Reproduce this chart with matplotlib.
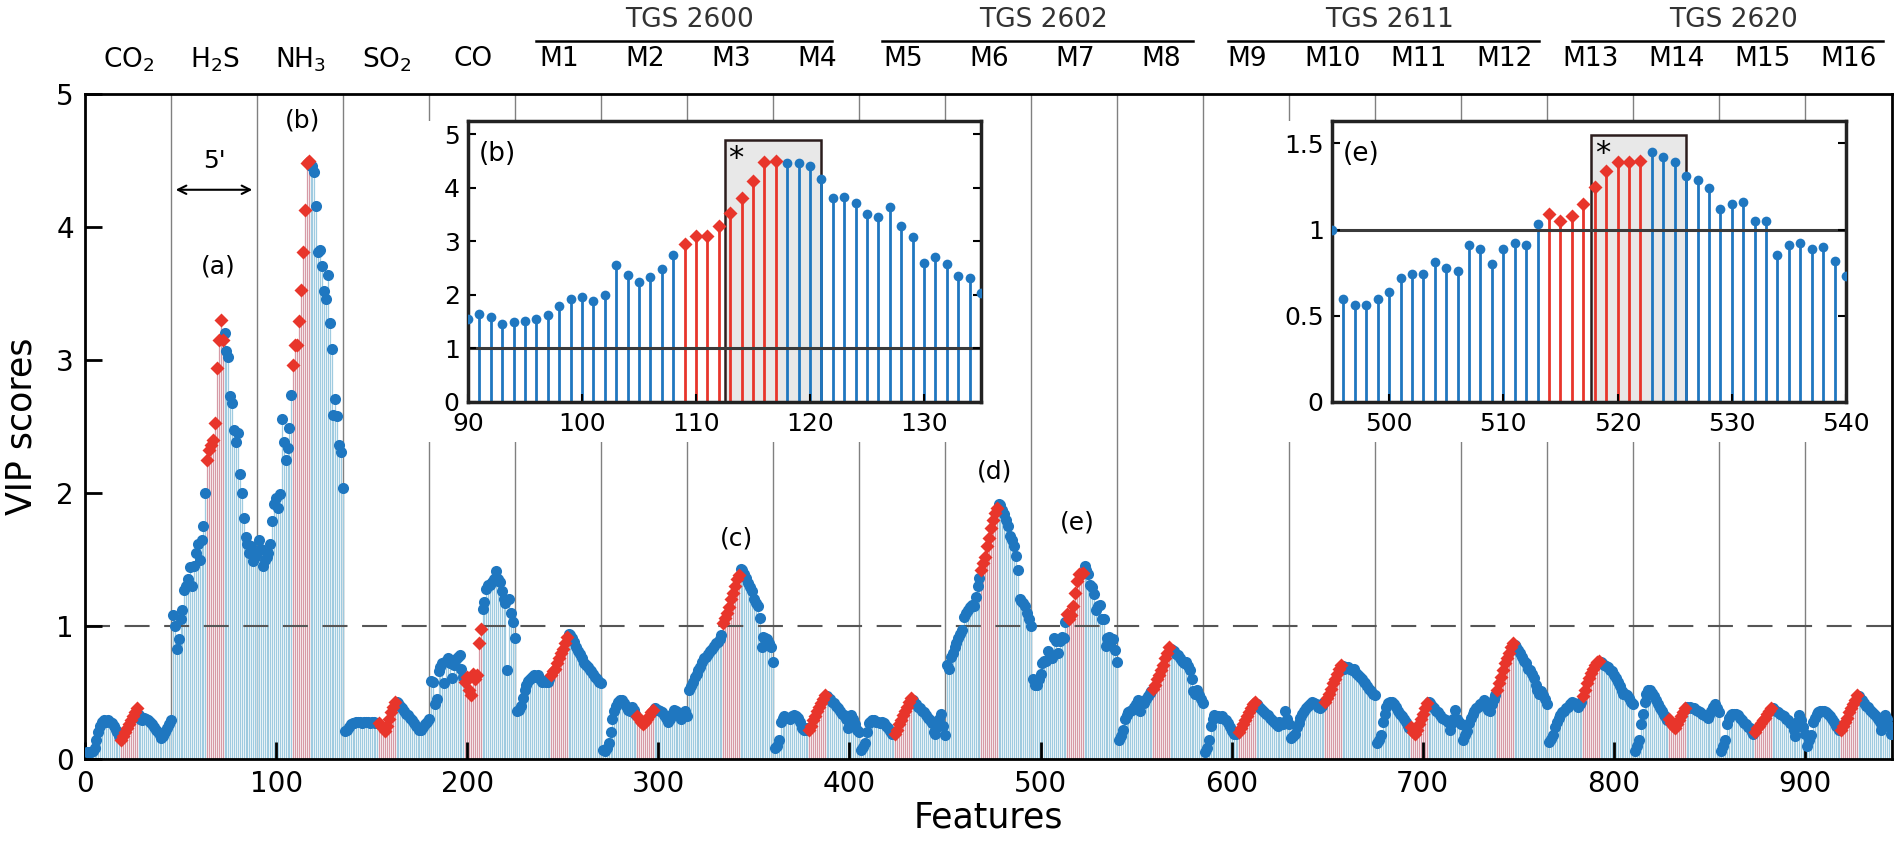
import matplotlib.pyplot as plt
from matplotlib.patches import Rectangle
from matplotlib.transforms import blended_transform_factory
import numpy as np

# block names (gases, then 16 sensor features M1..M16)
block_labels = ['CO$_2$', 'H$_2$S', 'NH$_3$', 'SO$_2$', 'CO'] + ['M%d' % i for i in range(1, 17)]
sensors = ['TGS 2600', 'TGS 2602', 'TGS 2611', 'TGS 2620']
sensor_spans = [(236, 391), (417, 580), (598, 761), (778, 941)]
block_size = 45
sel_first, sel_count = 18, 9   # selected (red) features inside every block

# VIP scores per block, 45 features each
vip_co2 = [0.05, 0.05, 0.05, 0.06, 0.08, 0.14, 0.2, 0.25, 0.28, 0.29, 0.28, 0.29, 0.28, 0.27, 0.25, 0.22, 0.2, 0.17,
           0.14, 0.17, 0.2, 0.23, 0.26, 0.29, 0.32, 0.35, 0.38,
           0.33, 0.3, 0.29, 0.31, 0.3, 0.29, 0.28, 0.26, 0.24, 0.22, 0.2, 0.18, 0.16, 0.17, 0.2, 0.23, 0.26, 0.29]
vip_h2s = [1.08, 1.0, 0.83, 0.9, 1.05, 1.12, 1.27, 1.3, 1.35, 1.44, 1.3, 1.45, 1.55, 1.62, 1.5, 1.65, 1.75, 2.0,
           2.25, 2.32, 2.36, 2.4, 2.53, 2.94, 3.15, 3.3, 3.15,
           3.2, 3.07, 3.02, 2.73, 2.68, 2.47, 2.38, 2.45, 2.14, 2.0, 1.81, 1.67, 1.62, 1.55, 1.6, 1.49, 1.52, 1.55]
vip_nh3 = [1.65, 1.58, 1.45, 1.5, 1.52, 1.55, 1.62, 1.79, 1.92, 1.96, 1.89, 1.99, 2.56, 2.38, 2.25, 2.34, 2.49, 2.74,
           2.96, 3.11, 3.11, 3.29, 3.53, 3.81, 4.13, 4.48, 4.5,
           4.46, 4.46, 4.41, 4.16, 3.81, 3.83, 3.71, 3.52, 3.46, 3.64, 3.28, 3.08, 2.59, 2.71, 2.58, 2.36, 2.31, 2.04]
vip_so2 = [0.21, 0.22, 0.24, 0.26, 0.27, 0.27, 0.28, 0.28, 0.28, 0.27, 0.28, 0.28, 0.28, 0.27, 0.28, 0.28, 0.27, 0.27,
           0.27, 0.25, 0.23, 0.21, 0.25, 0.3, 0.35, 0.39, 0.43,
           0.43, 0.42, 0.4, 0.38, 0.36, 0.34, 0.33, 0.31, 0.29, 0.27, 0.25, 0.23, 0.22, 0.22, 0.24, 0.26, 0.28, 0.3]
vip_co = [0.59, 0.58, 0.41, 0.45, 0.66, 0.69, 0.72, 0.57, 0.74, 0.76, 0.72, 0.61, 0.71, 0.75, 0.77, 0.78, 0.68, 0.62,
          0.58, 0.62, 0.52, 0.48, 0.64, 0.6, 0.63, 0.87, 0.98,
          1.13, 1.18, 1.28, 1.31, 1.31, 1.33, 1.35, 1.41, 1.35, 1.33, 1.26, 1.2, 1.17, 0.67, 1.2, 1.1, 1.03, 0.91]
vip_m1 = [0.36, 0.37, 0.4, 0.46, 0.52, 0.56, 0.59, 0.6, 0.62, 0.63, 0.62, 0.63, 0.6, 0.58, 0.59, 0.58, 0.58, 0.6,
          0.63, 0.66, 0.68, 0.72, 0.76, 0.8, 0.83, 0.87, 0.92,
          0.94, 0.93, 0.91, 0.88, 0.84, 0.81, 0.79, 0.76, 0.72, 0.71, 0.69, 0.67, 0.66, 0.64, 0.62, 0.6, 0.58, 0.57]
vip_m2 = [0.07, 0.06, 0.08, 0.12, 0.2, 0.3, 0.36, 0.4, 0.43, 0.44, 0.44, 0.42, 0.4, 0.37, 0.36, 0.39, 0.37, 0.34,
          0.32, 0.3, 0.28, 0.26, 0.28, 0.3, 0.32, 0.35, 0.37,
          0.38, 0.37, 0.37, 0.36, 0.35, 0.33, 0.31, 0.28, 0.3, 0.34, 0.37, 0.36, 0.35, 0.32, 0.3, 0.33, 0.36, 0.32]
vip_m3 = [0.52, 0.55, 0.58, 0.62, 0.64, 0.67, 0.69, 0.73, 0.76, 0.77, 0.79, 0.81, 0.83, 0.85, 0.87, 0.88, 0.9, 0.93,
          1.02, 1.06, 1.1, 1.14, 1.2, 1.25, 1.3, 1.35, 1.38,
          1.43, 1.42, 1.39, 1.36, 1.32, 1.29, 1.26, 1.2, 1.17, 1.15, 1.06, 0.84, 0.92, 0.91, 0.9, 0.87, 0.84, 0.73]
vip_m4 = [0.08, 0.1, 0.14, 0.28, 0.31, 0.32, 0.31, 0.31, 0.3, 0.32, 0.33, 0.32, 0.31, 0.28, 0.23, 0.22, 0.22, 0.23,
          0.22, 0.25, 0.29, 0.32, 0.36, 0.39, 0.42, 0.45, 0.48,
          0.47, 0.46, 0.45, 0.43, 0.42, 0.4, 0.38, 0.36, 0.34, 0.33, 0.3, 0.23, 0.28, 0.33, 0.3, 0.26, 0.22, 0.2]
vip_m5 = [0.07, 0.09, 0.12, 0.2, 0.27, 0.28, 0.29, 0.29, 0.28, 0.28, 0.27, 0.28, 0.27, 0.25, 0.23, 0.21, 0.19, 0.2,
          0.19, 0.22, 0.26, 0.29, 0.33, 0.36, 0.39, 0.43, 0.46,
          0.44, 0.42, 0.41, 0.39, 0.38, 0.36, 0.35, 0.33, 0.31, 0.29, 0.27, 0.2, 0.19, 0.24, 0.3, 0.34, 0.25, 0.18]
vip_m6 = [0.71, 0.68, 0.77, 0.8, 0.84, 0.87, 0.91, 0.94, 0.97, 1.07, 1.1, 1.12, 1.14, 1.16, 1.15, 1.22, 1.3, 1.36,
          1.42, 1.47, 1.52, 1.6, 1.66, 1.74, 1.8, 1.85, 1.89,
          1.92, 1.91, 1.87, 1.84, 1.8, 1.75, 1.68, 1.65, 1.6, 1.53, 1.42, 1.2, 1.19, 1.17, 1.15, 1.1, 1.05, 1.0]
vip_m7 = [0.6, 0.56, 0.56, 0.6, 0.64, 0.72, 0.74, 0.74, 0.81, 0.78, 0.76, 0.91, 0.89, 0.8, 0.89, 0.92, 0.91, 1.03,
          1.09, 1.05, 1.08, 1.15, 1.25, 1.34, 1.39, 1.39, 1.4,
          1.45, 1.42, 1.39, 1.31, 1.29, 1.24, 1.12, 1.15, 1.16, 1.05, 1.05, 0.85, 0.91, 0.92, 0.89, 0.9, 0.82, 0.73]
vip_m8 = [0.14, 0.17, 0.22, 0.3, 0.33, 0.35, 0.36, 0.37, 0.39, 0.41, 0.44, 0.36, 0.43, 0.42, 0.45, 0.47, 0.5, 0.51,
          0.53, 0.56, 0.6, 0.63, 0.67, 0.71, 0.76, 0.8, 0.84,
          0.83, 0.82, 0.81, 0.79, 0.78, 0.76, 0.74, 0.72, 0.73, 0.7, 0.67, 0.6, 0.51, 0.49, 0.52, 0.48, 0.45, 0.42]
vip_m9 = [0.05, 0.08, 0.14, 0.25, 0.3, 0.33, 0.32, 0.32, 0.31, 0.32, 0.3, 0.29, 0.27, 0.24, 0.21, 0.19, 0.19, 0.2,
          0.2, 0.23, 0.26, 0.29, 0.32, 0.35, 0.38, 0.41, 0.43,
          0.41, 0.4, 0.38, 0.37, 0.35, 0.34, 0.33, 0.31, 0.29, 0.28, 0.26, 0.25, 0.28, 0.27, 0.26, 0.36, 0.3, 0.26]
vip_m10 = [0.16, 0.17, 0.19, 0.24, 0.27, 0.31, 0.34, 0.36, 0.38, 0.4, 0.41, 0.43, 0.42, 0.41, 0.39, 0.38, 0.4, 0.42,
           0.43, 0.46, 0.49, 0.53, 0.57, 0.6, 0.64, 0.68, 0.71,
           0.7, 0.68, 0.69, 0.69, 0.68, 0.67, 0.68, 0.65, 0.63, 0.62, 0.6, 0.58, 0.57, 0.55, 0.53, 0.51, 0.49, 0.48]
vip_m11 = [0.12, 0.14, 0.18, 0.28, 0.34, 0.39, 0.42, 0.43, 0.43, 0.41, 0.39, 0.36, 0.34, 0.32, 0.3, 0.28, 0.25, 0.23,
           0.24, 0.2, 0.19, 0.22, 0.26, 0.3, 0.34, 0.38, 0.42,
           0.43, 0.42, 0.4, 0.38, 0.36, 0.35, 0.33, 0.31, 0.3, 0.29, 0.28, 0.22, 0.26, 0.3, 0.37, 0.3, 0.28, 0.26]
vip_m12 = [0.14, 0.18, 0.21, 0.27, 0.31, 0.34, 0.36, 0.38, 0.39, 0.41, 0.42, 0.44, 0.4, 0.37, 0.36, 0.41, 0.45, 0.48,
           0.52, 0.57, 0.62, 0.67, 0.72, 0.76, 0.8, 0.84, 0.87,
           0.86, 0.84, 0.82, 0.8, 0.77, 0.74, 0.72, 0.68, 0.67, 0.64, 0.61, 0.56, 0.52, 0.49, 0.51, 0.48, 0.45, 0.41]
vip_m13 = [0.13, 0.15, 0.18, 0.24, 0.28, 0.31, 0.33, 0.35, 0.36, 0.38, 0.39, 0.41, 0.43, 0.42, 0.41, 0.39, 0.41, 0.43,
           0.47, 0.52, 0.57, 0.61, 0.65, 0.68, 0.71, 0.73, 0.74,
           0.73, 0.72, 0.71, 0.7, 0.69, 0.67, 0.66, 0.63, 0.61, 0.58, 0.55, 0.51, 0.49, 0.49, 0.48, 0.46, 0.43, 0.41]
vip_m14 = [0.06, 0.1, 0.14, 0.26, 0.34, 0.43, 0.49, 0.52, 0.52, 0.5, 0.47, 0.44, 0.41, 0.38, 0.36, 0.33, 0.31, 0.29,
           0.3, 0.27, 0.25, 0.23, 0.26, 0.29, 0.32, 0.35, 0.38,
           0.39, 0.38, 0.39, 0.38, 0.38, 0.37, 0.36, 0.35, 0.34, 0.33, 0.32, 0.31, 0.33, 0.36, 0.39, 0.41, 0.38, 0.35]
vip_m15 = [0.06, 0.1, 0.14, 0.26, 0.31, 0.33, 0.34, 0.34, 0.34, 0.33, 0.31, 0.29, 0.27, 0.26, 0.24, 0.23, 0.2, 0.19,
           0.2, 0.23, 0.25, 0.27, 0.29, 0.31, 0.34, 0.36, 0.38,
           0.38, 0.37, 0.36, 0.35, 0.34, 0.33, 0.32, 0.3, 0.29, 0.27, 0.26, 0.22, 0.17, 0.28, 0.33, 0.29, 0.24, 0.19]
vip_m16 = [0.1, 0.14, 0.18, 0.28, 0.31, 0.34, 0.35, 0.36, 0.36, 0.36, 0.35, 0.34, 0.32, 0.3, 0.28, 0.25, 0.23, 0.22,
           0.22, 0.25, 0.28, 0.31, 0.35, 0.38, 0.41, 0.44, 0.48,
           0.47, 0.45, 0.44, 0.42, 0.4, 0.39, 0.37, 0.35, 0.34, 0.32, 0.3, 0.28, 0.22, 0.3, 0.33, 0.3, 0.25, 0.19]

blocks = [vip_co2, vip_h2s, vip_nh3, vip_so2, vip_co, vip_m1, vip_m2, vip_m3, vip_m4, vip_m5, vip_m6, vip_m7,
          vip_m8, vip_m9, vip_m10, vip_m11, vip_m12, vip_m13, vip_m14, vip_m15, vip_m16]

vip = np.concatenate([np.array(b, dtype=float) for b in blocks])
feat = np.arange(1, len(vip) + 1)
off = (feat - 1) % block_size
sel = (off >= sel_first) & (off < sel_first + sel_count)

BLUE = '#1f77c0'
RED = '#e8352b'

W, H = 1898, 850
fig = plt.figure(figsize=(W / 100, H / 100), dpi=100)
plt.rcParams['font.family'] = ['DejaVu Sans']

# main axes
ax = fig.add_axes([85 / W, 1 - 759 / H, 1807 / W, 665 / H])
ax.set_zorder(0)
ax.vlines(feat[~sel], 0, vip[~sel], color='#9fcbe0', lw=0.9, zorder=1)
ax.vlines(feat[sel], 0, vip[sel], color='#d69aa6', lw=0.9, zorder=1)
for k in range(1, len(blocks)):
    ax.axvline(block_size * k, color='#808080', lw=1.0, zorder=0.5)
ax.axhline(1, color='#555555', lw=1.5, ls=(0, (12, 7)), zorder=1.5)
ax.plot(feat[~sel], vip[~sel], 'o', color=BLUE, ms=8, mec='none', zorder=3)
ax.plot(feat[sel], vip[sel], 'D', color=RED, ms=7.5, mec='none', zorder=4)

ax.set_xlim(0, 945.5)
ax.set_ylim(0, 5)
ax.set_xticks(range(0, 901, 100))
ax.set_yticks(range(0, 6))
ax.tick_params(direction='in', length=12, width=2, labelsize=20, pad=8)
for s in ax.spines.values():
    s.set_linewidth(2)
ax.set_xlabel('Features', fontsize=25)
ax.set_ylabel('VIP scores', fontsize=25)
ax.xaxis.set_label_coords(0.5, -0.062)
ax.yaxis.set_label_coords(-0.026, 0.5)

# labels above the axes
trans = blended_transform_factory(ax.transData, ax.transAxes)
for i, lab in enumerate(block_labels):
    ax.text(block_size * i + 23, 1.052, lab, transform=trans, ha='center', va='center', fontsize=19)
for name, (a, b) in zip(sensors, sensor_spans):
    ax.plot([a, b], [1.08, 1.08], transform=trans, color='black', lw=1.8, clip_on=False)
    ax.text((a + b) / 2 + 3, 1.112, name, transform=trans, ha='center', va='center', fontsize=19, color='#333333')

# peak labels
for lab, xx, yy in [('(a)', 69.5, 3.7), ('(b)', 114, 4.8), ('(c)', 341, 1.66), ('(d)', 476, 2.16), ('(e)', 519, 1.78)]:
    ax.text(xx, yy, lab, ha='center', va='center', fontsize=18)
ax.annotate('', xy=(46, 4.28), xytext=(89, 4.28),
            arrowprops=dict(arrowstyle='<->', lw=1.5, color='black', mutation_scale=15))
ax.text(67.5, 4.5, "5'", ha='center', va='center', fontsize=18)


def inset(rect, cover_x, lo, hi, ylim, yticks, yticklabels, xticks, box, tag):
    cover = Rectangle((cover_x[0] / W, 1 - 442 / H), (cover_x[1] - cover_x[0]) / W, (442 - 121) / H,
                      transform=fig.transFigure, facecolor='white', edgecolor='none', zorder=1)
    fig.add_artist(cover)
    axi = fig.add_axes(rect)
    axi.set_zorder(2)
    m = (feat >= lo) & (feat <= hi)
    xs, ys, ss = feat[m], vip[m], sel[m]
    axi.add_patch(Rectangle((box[0], 0), box[1] - box[0], box[2], facecolor='#e8e8e8',
                            edgecolor='#2b1d1d', lw=1.8, zorder=0.5))
    axi.vlines(xs[~ss], 0, ys[~ss], color=BLUE, lw=2.0, zorder=1)
    axi.vlines(xs[ss], 0, ys[ss], color=RED, lw=2.0, zorder=1)
    axi.axhline(1, color='#3a3a3a', lw=2.2, zorder=1.5)
    axi.plot(xs[~ss], ys[~ss], 'o', color=BLUE, ms=7, mec='none', zorder=3)
    axi.plot(xs[ss], ys[ss], 'D', color=RED, ms=7.5, mec='none', zorder=4)
    axi.text(box[0] + 0.35, box[2] * 0.985, '*', ha='left', va='top', fontsize=22)
    axi.text(0.02, 0.93, tag, transform=axi.transAxes, ha='left', va='top', fontsize=19)
    axi.set_xlim(lo, hi)
    axi.set_ylim(*ylim)
    axi.set_xticks(xticks)
    axi.set_yticks(yticks)
    axi.set_yticklabels(yticklabels)
    axi.tick_params(direction='in', length=6, width=1.5, labelsize=18, right=True)
    axi.tick_params(axis='x', pad=7)
    axi.tick_params(axis='y', pad=6)
    for s in axi.spines.values():
        s.set_linewidth(2.5)
        s.set_color('#222222')
    return axi


inset([468 / W, 1 - 402 / H, 513 / W, 281 / H], (425, 990), 90, 135, (0, 5.25),
      [0, 1, 2, 3, 4, 5], ['0', '1', '2', '3', '4', '5'], [90, 100, 110, 120, 130], (112.5, 121, 4.9), '(b)')
inset([1332 / W, 1 - 402 / H, 514 / W, 281 / H], (1280, 1889), 495, 540, (0, 1.63),
      [0, 0.5, 1, 1.5], ['0', '0.5', '1', '1.5'], [500, 510, 520, 530, 540], (517.7, 526, 1.55), '(e)')

plt.savefig('out.png', dpi=100)
